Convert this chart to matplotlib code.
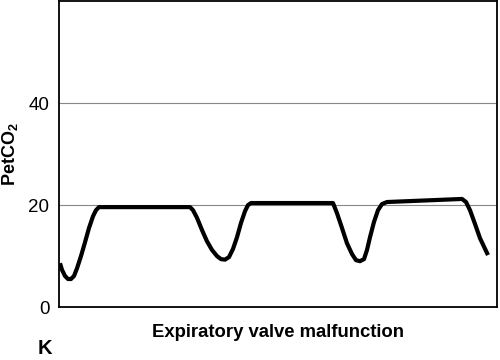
import matplotlib
matplotlib.use("Agg")
import matplotlib.pyplot as plt

plt.rcParams['font.family'] = ['Liberation Sans', 'DejaVu Sans']
plt.rcParams['mathtext.fontset'] = 'custom'
plt.rcParams['mathtext.rm'] = 'Liberation Sans'
plt.rcParams['mathtext.bf'] = 'Liberation Sans:bold'

# capnogram trace (time in arbitrary units, PetCO2 in mmHg)
time = [1, 3, 6, 9, 12, 15, 18, 22, 26, 30, 34, 37, 40,
        131, 134, 138, 143, 148, 153, 158, 162, 166, 170, 174, 178, 182, 186, 189, 192,
        274, 278, 283, 288, 293, 297, 301, 305, 308, 311, 315, 319, 323, 328,
        403, 407, 411, 416, 421, 429]
petco2 = [8.6, 7.3, 6.1, 5.5, 5.5, 6.1, 7.6, 10.0, 12.7, 15.5, 17.8, 19.0, 19.6,
          19.6, 19.0, 17.5, 15.1, 12.9, 11.2, 10.0, 9.4, 9.3, 9.8, 11.4, 13.7, 16.5, 18.8, 20.0, 20.4,
          20.4, 18.4, 15.5, 12.5, 10.4, 9.2, 9.0, 9.4, 11.2, 13.7, 16.7, 19.0, 20.2, 20.6,
          21.2, 20.6, 19.0, 16.3, 13.5, 10.2]

yticks = [0, 20, 40]

fig = plt.figure(figsize=(5, 3.6), dpi=100)
ax = fig.add_axes([0.118, 0.147, 0.876, 0.850])

for y in [20, 40]:
    ax.axhline(y, color='#888888', lw=0.8, zorder=1)

ax.plot(time, petco2, color='black', lw=3.0, solid_capstyle='butt', zorder=3)

ax.set_xlim(0, 438)
ax.set_ylim(0, 60)
ax.set_xticks([])
ax.set_yticks(yticks)
ax.tick_params(axis='y', length=0, pad=7, labelsize=13.5)
for s in ax.spines.values():
    s.set_linewidth(1.3)

ax.set_ylabel(r'PetCO$_\mathregular{2}$', fontsize=13, fontweight='bold')
ax.yaxis.set_label_coords(-0.090, 0.5)
ax.set_xlabel('Expiratory valve malfunction', fontsize=13.3, fontweight='bold', labelpad=12)

fig.text(0.076, 0.005, 'K', fontsize=14.5, fontweight='bold', ha='left', va='bottom')

fig.savefig('out.png', dpi=100)
